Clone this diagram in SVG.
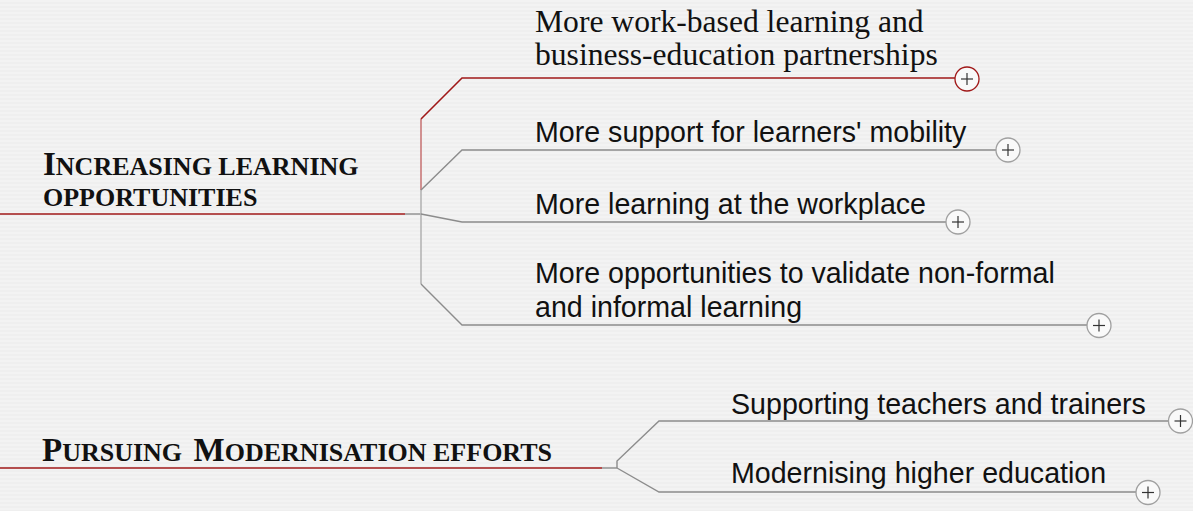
<svg xmlns="http://www.w3.org/2000/svg" width="1193" height="511" viewBox="0 0 1193 511">
<defs>
<pattern id="stripes" width="8" height="4" patternUnits="userSpaceOnUse">
<rect width="8" height="4" fill="#f3f3f3"/>
<rect y="2" width="8" height="2" fill="#efefef"/>
</pattern>
<g id="plus"><line x1="-6" y1="0" x2="6" y2="0"/><line x1="0" y1="-6" x2="0" y2="6"/></g>
</defs>
<style>
.head{font-family:"Liberation Serif","Times New Roman",serif;font-weight:bold;fill:#111}
.big{font-size:33px}
.sm{font-size:26px}
.serif{font-family:"Liberation Serif","Times New Roman",serif;font-size:31.6px;fill:#111}
.sans{font-family:"Liberation Sans",Arial,sans-serif;font-size:28.6px;fill:#111}
.red{stroke:#a01818;stroke-width:1.6;fill:none}
.pink{stroke:#c87878;stroke-width:1.6;fill:none}
.gray{stroke:#8c8c8c;stroke-width:1.4;fill:none}
.lgray{stroke:#b4b4b4;stroke-width:1.6;fill:none}
.btn{fill:#f9f9f9;stroke:#a0a0a0;stroke-width:1.3}
.btnr{fill:#f9f9f9;stroke:#a01818;stroke-width:1.3}
.pl{stroke:#333;stroke-width:1.2}
</style>
<rect width="1193" height="511" fill="url(#stripes)"/>
<g id="connectors">
<line class="red" x1="0" y1="214" x2="405" y2="214"/>
<line class="gray" x1="405" y1="214" x2="421" y2="214"/>
<line class="pink" x1="421" y1="119" x2="421" y2="190"/>
<line class="lgray" x1="421" y1="190" x2="421" y2="284"/>
<polyline class="red" points="421,119 462,78 955,78"/>
<polyline class="gray" points="421,190 462,150 996,150"/>
<polyline class="gray" points="421,214 462,222 946,222"/>
<polyline class="gray" points="421,284 462,325 1087,325"/>
<line class="red" x1="0" y1="468" x2="602" y2="468"/>
<line class="gray" x1="602" y1="468" x2="617" y2="468"/>
<polyline class="gray" points="617,468 617,461 659,421 1168,421"/>
<polyline class="gray" points="617,468 659,492 1136,492"/>
</g>
<g id="n-increasing">
<text class="head" x="43" y="175"><tspan class="big">I</tspan><tspan class="sm">NCREASING LEARNING</tspan></text>
<text class="head sm" x="43" y="205.5">OPPORTUNITIES</text>
</g>
<g id="n-workbased">
<text class="serif" x="535" y="31.5">More work-based learning and</text>
<text class="serif" x="535" y="65">business-education partnerships</text>
<circle class="btnr" cx="967" cy="79" r="12"/><use href="#plus" x="967" y="79" class="pl"/>
</g>
<g id="n-mobility">
<text class="sans" x="535" y="141.5">More support for learners' mobility</text>
<circle class="btn" cx="1008" cy="150" r="12"/><use href="#plus" x="1008" y="150" class="pl"/>
</g>
<g id="n-workplace">
<text class="sans" x="535" y="213.5">More learning at the workplace</text>
<circle class="btn" cx="958" cy="222" r="12"/><use href="#plus" x="958" y="222" class="pl"/>
</g>
<g id="n-validate">
<text class="sans" x="535" y="283">More opportunities to validate non-formal</text>
<text class="sans" x="535" y="317">and informal learning</text>
<circle class="btn" cx="1099" cy="325.5" r="12"/><use href="#plus" x="1099" y="325.5" class="pl"/>
</g>
<g id="n-pursuing">
<text class="head" x="42" y="461"><tspan class="big">P</tspan><tspan class="sm">URSUING </tspan><tspan class="big" dx="5">M</tspan><tspan class="sm">ODERNISATION EFFORTS</tspan></text>
</g>
<g id="n-teachers">
<text class="sans" x="731" y="413.5">Supporting teachers and trainers</text>
<circle class="btn" cx="1180.5" cy="421" r="12"/><use href="#plus" x="1180.5" y="421" class="pl"/>
</g>
<g id="n-higher">
<text class="sans" x="731" y="482.5">Modernising higher education</text>
<circle class="btn" cx="1148" cy="492.5" r="12"/><use href="#plus" x="1148" y="492.5" class="pl"/>
</g>
</svg>
